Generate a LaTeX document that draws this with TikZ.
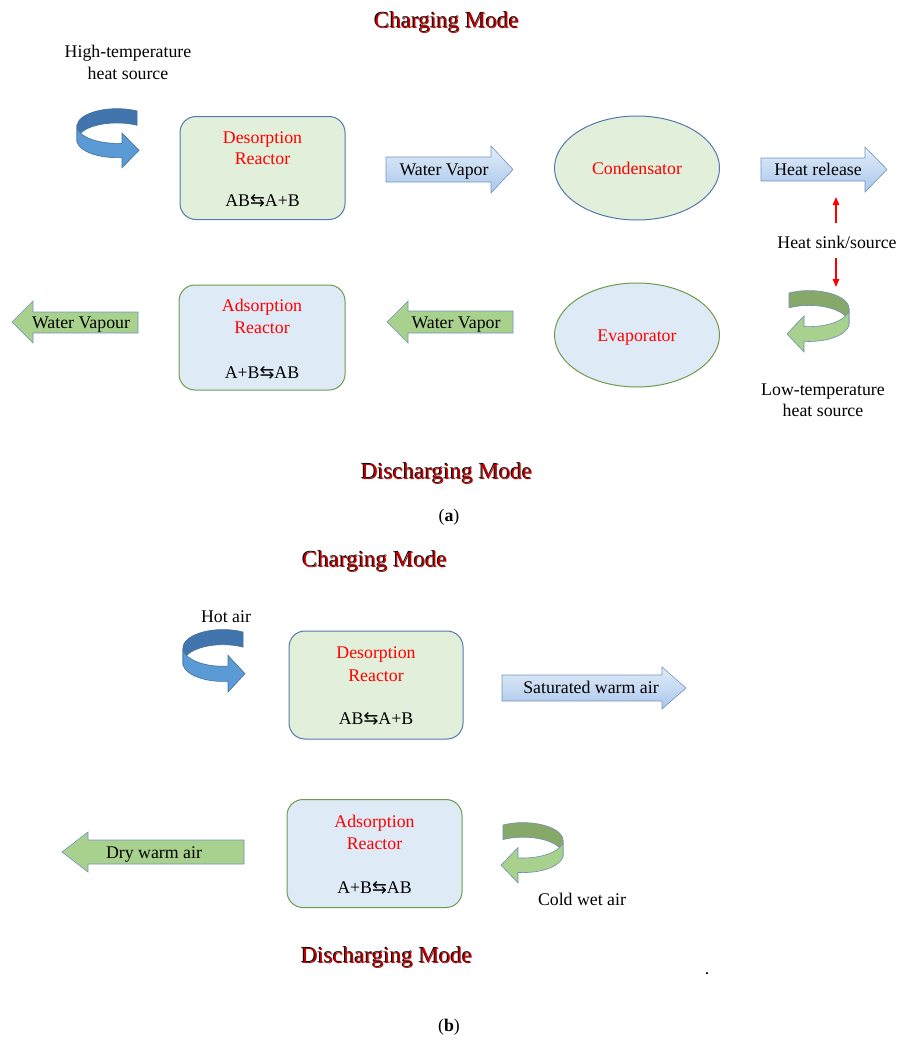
\documentclass[tikz,border=0pt]{standalone}
\usepackage{fontspec}
\setmainfont{Liberation Serif}
\newfontfamily\symf{DejaVu Sans}
\usetikzlibrary{arrows.meta,shapes.geometric}
\definecolor{gfill}{HTML}{E2EFDA}
\definecolor{bfill}{HTML}{DEEBF7}
\definecolor{bline}{HTML}{5479AE}
\definecolor{gline}{HTML}{6E9A4C}
\definecolor{arrline}{HTML}{7393BC}
\definecolor{garr}{HTML}{A9D18E}
\definecolor{barrtop}{HTML}{E2EDF9}
\definecolor{barrbot}{HTML}{A9C7EC}
\definecolor{ttlred}{HTML}{C00000}
\definecolor{curlbback}{HTML}{4275AE}
\definecolor{curlbfront}{HTML}{5B9BD5}
\definecolor{curlbline}{HTML}{41719C}
\definecolor{curlgback}{HTML}{86A96A}
\definecolor{curlgfront}{HTML}{A9D18E}
\definecolor{curlgline}{HTML}{6F8FAF}
\newcommand{\eqa}{{\symf ⇆}}
\newcommand{\ttlfont}{\fontsize{23}{26}\selectfont}
\tikzset{
  rbox/.style={rectangle, rounded corners=16pt, line width=1pt, inner sep=0pt},
  ell/.style={ellipse, line width=1pt, inner sep=0pt, minimum width=165pt, minimum height=104pt},
  txt/.style={anchor=base, inner sep=0pt},
  redtxt/.style={txt, text=red},
  barrow/.style={draw=arrline, line width=0.6pt, top color=barrtop, bottom color=barrbot},
  garrow/.style={draw=arrline, line width=0.6pt, fill=garr},
  hsarrow/.style={red, line width=1.3pt, -{Triangle[length=8pt,width=6.5pt]}},
  curlpart/.style={line width=0.6pt}
}
% #1 shift, #2 xscale, #3 yscale, #4 back colour, #5 front colour, #6 line colour
\newcommand{\curlarrow}[6]{%
  \begin{scope}[shift={#1}, xscale=#2, yscale=#3]
    \filldraw[curlpart, fill=#4, draw=#6]
      (-60:40 and 17) arc[start angle=-60, end angle=-180, x radius=40, y radius=17]
      -- ++(0,14) arc[start angle=180, end angle=300, x radius=40, y radius=17] -- cycle;
    \filldraw[curlpart, fill=#5, draw=#6]
      (-40,0) arc[start angle=180, end angle=82.8, x radius=40, y radius=17]
      -- (5,6.9) -- (22,23.9) -- (5,40.9) -- (5,30.9)
      arc[start angle=82.8, end angle=180, x radius=40, y radius=17] -- cycle;
  \end{scope}}
\newcommand{\shadowtitle}[4]{%
  \node[txt, text=black] (#1s) at (#2-1,#3-1) {\ttlfont #4};
  \node[txt, text=ttlred] (#1) at (#2,#3) {\ttlfont #4};}
\begin{document}
\begin{tikzpicture}[x=1pt, y=-1pt, font=\fontsize{17.8}{21}\selectfont]
\useasboundingbox (0,0) rectangle (900,1041);

% ================= (a) =================
\shadowtitle{ttla1}{447}{29}{Charging Mode}
\node[txt] (hts1) at (128,58) {High-temperature};
\node[txt] (hts2) at (128,80) {heat source};
\curlarrow{(117,126)}{1}{1.02}{curlbback}{curlbfront}{curlbline}

\node[rbox, fill=gfill, draw=bline, minimum width=165pt, minimum height=103pt] (desa) at (262.5,168) {};
\node[redtxt] (desa1) at (262.5,143) {Desorption};
\node[redtxt] (desa2) at (262.5,164) {Reactor};
\node[txt] (desa3) at (262.5,206) {AB\eqa A+B};

\path[barrow] (386,157) -- (491,157) -- (491,146) -- (513,169.5) -- (491,193) -- (491,182) -- (386,182) -- cycle;
\node[txt] (wva1) at (444,175) {Water Vapor};

\node[ell, fill=gfill, draw=bline] (cond) at (637,168) {};
\node[redtxt] (condt) at (637,174) {Condensator};

\path[barrow] (761,158) -- (865,158) -- (865,147) -- (887,169.5) -- (865,192) -- (865,181) -- (761,181) -- cycle;
\node[txt] (hr) at (818,175) {Heat release};

\node[txt] (hs) at (837,248) {Heat sink/source};
\coordinate (hsu1) at (836,223);
\coordinate (hsu2) at (836,197);
\coordinate (hsd1) at (836,258);
\coordinate (hsd2) at (836,287);
\draw[hsarrow] (hsu1) -- (hsu2);
\draw[hsarrow] (hsd1) -- (hsd2);

\path[garrow] (12,322) -- (33,301) -- (33,312) -- (138,312) -- (138,333) -- (33,333) -- (33,343) -- cycle;
\node[txt] (wvb) at (81,328) {Water Vapour};

\node[rbox, fill=bfill, draw=gline, minimum width=166pt, minimum height=105pt] (adsa) at (262,337.5) {};
\node[redtxt] (adsa1) at (262,311) {Adsorption};
\node[redtxt] (adsa2) at (262,333) {Reactor};
\node[txt] (adsa3) at (262,378) {A+B\eqa AB};

\path[garrow] (387,322) -- (408,301) -- (408,311) -- (513,311) -- (513,333) -- (408,333) -- (408,343) -- cycle;
\node[txt] (wva2) at (456,328) {Water Vapor};

\node[ell, fill=bfill, draw=gline] (evap) at (637,335) {};
\node[redtxt] (evapt) at (637,341) {Evaporator};

\curlarrow{(809,308.6)}{-1}{1.06}{curlgback}{curlgfront}{curlgline}
\node[txt] (lts1) at (823,395) {Low-temperature};
\node[txt] (lts2) at (823,416) {heat source};

\shadowtitle{ttla2}{447}{479}{Discharging Mode}
\node[txt] (capa) at (449,521) {(\textbf{a})};

% ================= (b) =================
\shadowtitle{ttlb1}{375}{567}{Charging Mode}
\node[txt] (hot) at (226,622) {Hot air};
\curlarrow{(223,647.9)}{1}{1.08}{curlbback}{curlbfront}{curlbline}

\node[rbox, fill=gfill, draw=bline, minimum width=174pt, minimum height=108pt] (desb) at (376,685) {};
\node[redtxt] (desb1) at (376,658) {Desorption};
\node[redtxt] (desb2) at (376,681) {Reactor};
\node[txt] (desb3) at (376,724) {AB\eqa A+B};

\path[barrow] (502,675) -- (662,675) -- (662,667) -- (686,688) -- (662,709) -- (662,701) -- (502,701) -- cycle;
\node[txt] (swa) at (591,693) {Saturated warm air};

\path[garrow] (62,852) -- (88,832) -- (88,840) -- (244,840) -- (244,864) -- (88,864) -- (88,872) -- cycle;
\node[txt] (dwa) at (154,858) {Dry warm air};

\node[rbox, fill=bfill, draw=gline, minimum width=175pt, minimum height=108pt] (adsb) at (374.5,853.5) {};
\node[redtxt] (adsb1) at (374.5,827) {Adsorption};
\node[redtxt] (adsb2) at (374.5,849) {Reactor};
\node[txt] (adsb3) at (374.5,893) {A+B\eqa AB};

\curlarrow{(523,840.3)}{-1}{1.04}{curlgback}{curlgfront}{curlgline}
\node[txt] (cwa) at (582,905) {Cold wet air};

\shadowtitle{ttlb2}{387}{963}{Discharging Mode}
\node[txt] (dot) at (707,974) {.};
\node[txt] (capb) at (449,1031) {(\textbf{b})};
\end{tikzpicture}
\end{document}
